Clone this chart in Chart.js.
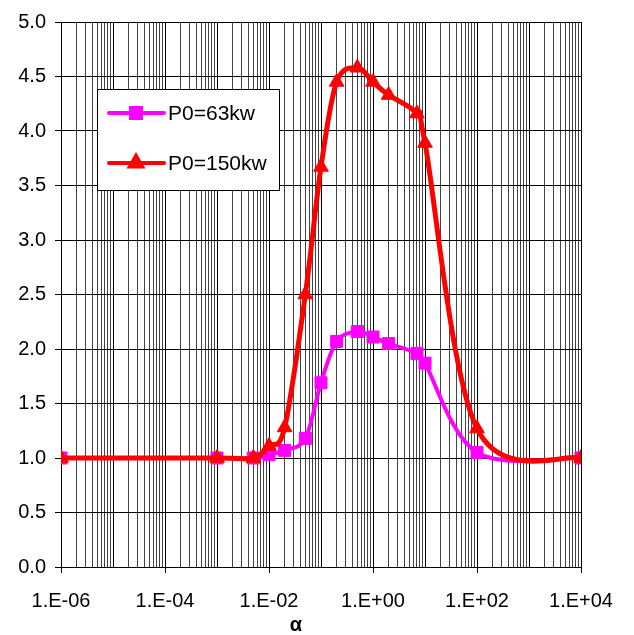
<!DOCTYPE html>
<html>
<head>
<meta charset="utf-8">
<script src="https://cdn.jsdelivr.net/npm/chart.js@4/dist/chart.umd.min.js"></script>
<style>
  html, body { margin: 0; padding: 0; background: #fff; }
  #wrap { width: 634px; height: 635px; }
</style>
</head>
<body>
<div id="wrap"><canvas id="c" width="634" height="635"></canvas></div>
<script>
// alpha values (log axis) and the two measured curves
const alphaValues = [1e-6, 1e-3, 5e-3, 1e-2, 2e-2, 5e-2, 0.1, 0.2, 0.5, 1, 2, 7, 10, 100, 1e4];
const p63  = [1.00, 1.00, 1.00, 1.03, 1.07, 1.18, 1.69, 2.07, 2.16, 2.11, 2.05, 1.96, 1.87, 1.05, 1.00];
const p150 = [1.00, 1.00, 1.00, 1.11, 1.28, 2.50, 3.67, 4.45, 4.58, 4.45, 4.33, 4.16, 3.89, 1.27, 1.00];
const seriesNames = ['P0=63kw', 'P0=150kw'];

// labelled decades on the x axis
const xLabelValues = [1e-6, 1e-4, 1e-2, 1, 1e2, 1e4];
const xLabels = ['1.E-06', '1.E-04', '1.E-02', '1.E+00', '1.E+02', '1.E+04'];
const xTitle = 'α';

const FONT = '"Liberation Sans", Arial, Helvetica, sans-serif';

function toPoints(ys) {
  return alphaValues.map((x, i) => ({ x: x, y: ys[i] }));
}
function labelFor(v) {
  const i = xLabelValues.findIndex(m => Math.abs(Math.log10(m) - Math.log10(v)) < 1e-6);
  return i >= 0 ? xLabels[i] : '';
}
function isDecade(v) {
  const l = Math.log10(v);
  return Math.abs(l - Math.round(l)) < 1e-6;
}

// Smooth curves as uniform Catmull-Rom splines (control points at 1/6 of the
// neighbour chord), computed from the pixel positions the scales produced.
const catmullRom = {
  id: 'catmullRom',
  beforeDatasetsDraw(chart) {
    chart.getSortedVisibleDatasetMetas().forEach(meta => {
      const pts = meta.data;
      const n = pts.length;
      for (let i = 0; i < n; i++) {
        const p = pts[i];
        const prev = pts[Math.max(i - 1, 0)];
        const next = pts[Math.min(i + 1, n - 1)];
        const dx = (next.x - prev.x) / 6;
        const dy = (next.y - prev.y) / 6;
        p.cp1x = p.x - dx; p.cp1y = p.y - dy;
        p.cp2x = p.x + dx; p.cp2y = p.y + dy;
      }
      if (meta.dataset) {
        meta.dataset._pointsUpdated = true;
        meta.dataset._path = undefined;
      }
    });
  }
};

// boxed legend inside the plot area, plus the x axis title
const boxLegend = {
  id: 'boxLegend',
  afterDraw(chart) {
    const ctx = chart.ctx;
    const area = chart.chartArea;
    const bx = area.left + 36, by = area.top + 67, bw = 182, bh = 101;
    ctx.save();
    ctx.fillStyle = '#fff';
    ctx.fillRect(bx, by, bw, bh);
    ctx.strokeStyle = '#000';
    ctx.lineWidth = 1;
    ctx.strokeRect(bx + 0.5, by + 0.5, bw, bh);
    chart.data.datasets.forEach((ds, i) => {
      const y = by + 24 + i * 50;
      ctx.strokeStyle = ds.borderColor;
      ctx.lineWidth = 4;
      ctx.lineCap = 'round';
      ctx.beginPath();
      ctx.moveTo(bx + 12, y);
      ctx.lineTo(bx + 67, y);
      ctx.stroke();
      ctx.fillStyle = ds.pointBackgroundColor;
      ctx.strokeStyle = ds.pointBorderColor;
      Chart.helpers.drawPoint(ctx, { pointStyle: ds.pointStyle, radius: 7, borderWidth: 1, rotation: 0 }, bx + 39, y);
      ctx.fillStyle = '#000';
      ctx.font = '21px ' + FONT;
      ctx.textAlign = 'left';
      ctx.textBaseline = 'middle';
      ctx.fillText(ds.label, bx + 71, y + 1);
    });
    // x axis title
    ctx.fillStyle = '#000';
    ctx.font = 'bold 20px ' + FONT;
    ctx.textAlign = 'center';
    ctx.textBaseline = 'middle';
    ctx.fillText(xTitle, (area.left + area.right) / 2 - 25, 625);
    ctx.restore();
  }
};

new Chart(document.getElementById('c'), {
  type: 'line',
  data: {
    datasets: [
      {
        label: seriesNames[0],
        data: toPoints(p63),
        borderColor: '#FF00FF',
        backgroundColor: '#FF00FF',
        pointBackgroundColor: '#FF00FF',
        pointBorderColor: '#FF00FF',
        pointStyle: 'rect',
        pointRadius: 8.5,
        pointBorderWidth: 1,
        borderWidth: 4,
        tension: 0.5,
        order: 2
      },
      {
        label: seriesNames[1],
        data: toPoints(p150),
        borderColor: '#FF0000',
        backgroundColor: '#FF0000',
        pointBackgroundColor: '#FF0000',
        pointBorderColor: '#FF0000',
        pointStyle: 'triangle',
        pointRadius: 8.5,
        pointBorderWidth: 1,
        borderWidth: 5,
        tension: 0.5,
        order: 1
      }
    ]
  },
  options: {
    responsive: false,
    animation: false,
    devicePixelRatio: 1,
    layout: { padding: { left: 0, top: 22, right: 53, bottom: 0 } },
    plugins: {
      legend: { display: false },
      tooltip: { enabled: false }
    },
    scales: {
      x: {
        type: 'logarithmic',
        min: 1e-6,
        max: 1e4,
        afterBuildTicks(scale) {
          const ticks = [];
          for (let e = -6; e <= 4; e++) {
            for (let s = 1; s <= 9; s++) {
              const v = Number((s + 'e' + e));
              if (v <= 1e4) ticks.push({ value: v });
            }
          }
          scale.ticks = ticks;
        },
        afterFit(scale) { scale.height = 68; },
        ticks: {
          autoSkip: false,
          maxRotation: 0,
          minRotation: 0,
          padding: 16,
          color: '#000',
          font: { family: FONT, size: 20 },
          callback: (v) => labelFor(v)
        },
        grid: {
          color: (c) => (c.tick && isDecade(c.tick.value)) ? '#000' : '#444',
          lineWidth: 1,
          tickLength: 6,
          tickColor: (c) => (c.tick && labelFor(c.tick.value)) ? '#000' : 'rgba(0,0,0,0)'
        },
        border: { color: '#000', width: 1 }
      },
      y: {
        min: 0,
        max: 5,
        afterFit(scale) { scale.width = 61; },
        ticks: {
          stepSize: 0.5,
          padding: 9,
          color: '#000',
          font: { family: FONT, size: 20 },
          callback: (v) => Number(v).toFixed(1)
        },
        grid: { color: '#000', lineWidth: 1, tickLength: 6, tickColor: '#000' },
        border: { color: '#000', width: 1 }
      }
    }
  },
  plugins: [catmullRom, boxLegend]
});
</script>
</body>
</html>
